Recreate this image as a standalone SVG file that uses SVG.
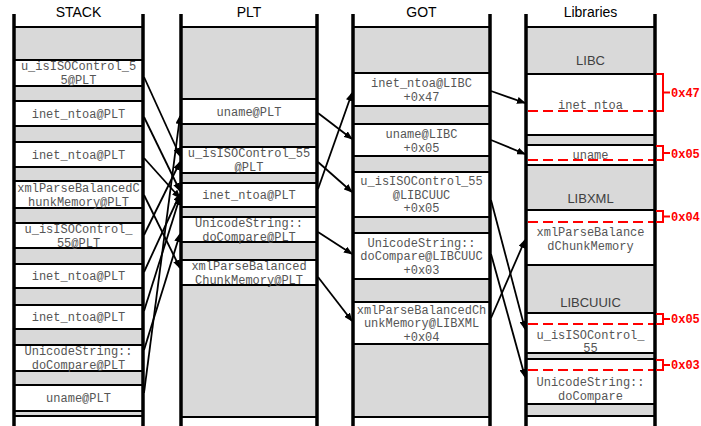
<svg xmlns="http://www.w3.org/2000/svg" width="701" height="426" viewBox="0 0 701 426">
<defs>
<marker id="ah" markerUnits="userSpaceOnUse" markerWidth="9" markerHeight="7" refX="8" refY="3.5" orient="auto">
<path d="M0,0 L9,3.5 L0,7 z" fill="#000"/>
</marker>
<style>
.hdr{font-family:"Liberation Sans",Arial,sans-serif;font-size:14px;fill:#000;text-anchor:middle}
.lib{font-family:"Liberation Sans",Arial,sans-serif;font-size:13px;fill:#404040;text-anchor:middle}
.t{font-family:"Liberation Mono","Courier New",monospace;font-size:12px;fill:#555;text-anchor:middle}
.hex{font-family:"Liberation Mono","Courier New",monospace;font-size:12px;font-weight:bold;fill:#ff0000}
.bg{fill:#d9d9d9}
.box{fill:#fff;stroke:#000;stroke-width:2}
.vl{stroke:#000;stroke-width:3.5}
.tl{stroke:#000;stroke-width:2}
.dash{stroke:#ff0000;stroke-width:2;stroke-dasharray:10,5;fill:none}
.br{stroke:#ff0000;stroke-width:2;fill:none}
.c line{stroke:#000;stroke-width:1.8;marker-end:url(#ah)}
</style>
</defs>
<rect width="701" height="426" fill="#fff"/>

<!-- column backgrounds -->
<rect class="bg" x="14" y="27" width="129" height="400"/>
<rect class="bg" x="181" y="27" width="136" height="400"/>
<rect class="bg" x="353" y="27" width="137" height="400"/>
<rect class="bg" x="526" y="27" width="129" height="400"/>

<text class="hdr" x="78.5" y="17">STACK</text>
<text class="hdr" x="249" y="17">PLT</text>
<text class="hdr" x="421.5" y="17">GOT</text>
<text class="hdr" x="590.5" y="17">Libraries</text>

<!-- STACK -->
<g id="stack">
<g id="s1"><rect class="box" x="14" y="60" width="129" height="26"/><text class="t" x="78.5" y="70">u_isISOControl_5</text><text class="t" x="78.5" y="84">5@PLT</text></g>
<g id="s2"><rect class="box" x="14" y="101" width="129" height="25"/><text class="t" x="78.5" y="117.5">inet_ntoa@PLT</text></g>
<g id="s3"><rect class="box" x="14" y="142" width="129" height="25"/><text class="t" x="78.5" y="158.5">inet_ntoa@PLT</text></g>
<g id="s4"><rect class="box" x="14" y="181" width="129" height="27"/><text class="t" x="78.5" y="191.5">xmlParseBalancedC</text><text class="t" x="78.5" y="205.5">hunkMemory@PLT</text></g>
<g id="s5"><rect class="box" x="14" y="223" width="129" height="25"/><text class="t" x="78.5" y="232.5">u_isISOControl_</text><text class="t" x="78.5" y="246.5">55@PLT</text></g>
<g id="s6"><rect class="box" x="14" y="264" width="129" height="24"/><text class="t" x="78.5" y="280">inet_ntoa@PLT</text></g>
<g id="s7"><rect class="box" x="14" y="305" width="129" height="24"/><text class="t" x="78.5" y="321">inet_ntoa@PLT</text></g>
<g id="s8"><rect class="box" x="14" y="345" width="129" height="26"/><text class="t" x="78.5" y="355">UnicodeString::</text><text class="t" x="78.5" y="369">doCompare@PLT</text></g>
<g id="s9"><rect class="box" x="14" y="385" width="129" height="26"/><text class="t" x="78.5" y="402">uname@PLT</text></g>
<g id="s10"><rect class="box" x="14" y="416" width="129" height="20"/></g>
</g>

<!-- PLT -->
<g id="plt">
<g id="p1"><rect class="box" x="181" y="99" width="136" height="25"/><text class="t" x="249" y="115.5">uname@PLT</text></g>
<g id="p2"><rect class="box" x="181" y="147" width="136" height="26"/><text class="t" x="249" y="157">u_isISOControl_55</text><text class="t" x="249" y="171">@PLT</text></g>
<g id="p3"><rect class="box" x="181" y="183" width="136" height="24"/><text class="t" x="249" y="199">inet_ntoa@PLT</text></g>
<g id="p4"><rect class="box" x="181" y="217" width="136" height="25"/><text class="t" x="249" y="226.5">UnicodeString::</text><text class="t" x="249" y="240.5">doCompare@PLT</text></g>
<g id="p5"><rect class="box" x="181" y="260" width="136" height="25"/><text class="t" x="249" y="269.5">xmlParseBalanced</text><text class="t" x="249" y="283.5">ChunkMemory@PLT</text></g>
<g id="p6"><rect class="box" x="181" y="417" width="136" height="20"/></g>
</g>

<!-- GOT -->
<g id="got">
<g id="g1"><rect class="box" x="353" y="73" width="137" height="33"/><text class="t" x="421.5" y="87">inet_ntoa@LIBC</text><text class="t" x="421.5" y="101">+0x47</text></g>
<g id="g2"><rect class="box" x="353" y="124" width="137" height="32"/><text class="t" x="421.5" y="137.5">uname@LIBC</text><text class="t" x="421.5" y="151.5">+0x05</text></g>
<g id="g3"><rect class="box" x="353" y="172" width="137" height="45"/><text class="t" x="421.5" y="185">u_isISOControl_55</text><text class="t" x="421.5" y="198.5">@LIBCUUC</text><text class="t" x="421.5" y="212">+0x05</text></g>
<g id="g4"><rect class="box" x="353" y="233" width="137" height="46"/><text class="t" x="421.5" y="246.5">UnicodeString::</text><text class="t" x="421.5" y="260">doCompare@LIBCUUC</text><text class="t" x="421.5" y="273.5">+0x03</text></g>
<g id="g5"><rect class="box" x="353" y="302" width="137" height="42"/><text class="t" x="421.5" y="313.5">xmlParseBalancedCh</text><text class="t" x="421.5" y="327">unkMemory@LIBXML</text><text class="t" x="421.5" y="340.5">+0x04</text></g>
<g id="g6"><rect class="box" x="353" y="417" width="137" height="20"/></g>
</g>

<!-- Libraries -->
<g id="libs">
<g id="libc"><text class="lib" x="590.5" y="65">LIBC</text></g>
<g id="l1"><rect class="box" x="526" y="74" width="129" height="61"/><text class="t" x="590.5" y="109">inet_ntoa</text><line class="dash" x1="528" y1="111" x2="654" y2="111"/></g>
<g id="l2"><rect class="box" x="526" y="145" width="129" height="20"/><text class="t" x="590.5" y="159">uname</text><line class="dash" x1="528" y1="160" x2="654" y2="160"/></g>
<g id="libxml"><text class="lib" x="590.5" y="203">LIBXML</text></g>
<g id="l3"><rect class="box" x="526" y="210" width="129" height="55"/><text class="t" x="590.5" y="236">xmlParseBalance</text><text class="t" x="590.5" y="249.5">dChunkMemory</text><line class="dash" x1="528" y1="222" x2="654" y2="222"/></g>
<g id="libcuuic"><text class="lib" x="590.5" y="307">LIBCUUIC</text></g>
<g id="l4"><rect class="box" x="526" y="313" width="129" height="40"/><text class="t" x="590.5" y="339">u_isISOControl_</text><text class="t" x="590.5" y="352">55</text><line class="dash" x1="528" y1="324" x2="654" y2="324"/></g>
<g id="l5"><rect class="box" x="526" y="359" width="129" height="45"/><text class="t" x="590.5" y="386">UnicodeString::</text><text class="t" x="590.5" y="400">doCompare</text><line class="dash" x1="528" y1="370" x2="654" y2="370"/></g>
<g id="l6"><rect class="box" x="526" y="416" width="129" height="20"/></g>
</g>

<!-- column outlines -->
<g id="frames">
<line class="tl" x1="14" y1="27" x2="143" y2="27"/>
<line class="tl" x1="181" y1="27" x2="317" y2="27"/>
<line class="tl" x1="353" y1="27" x2="490" y2="27"/>
<line class="tl" x1="526" y1="27" x2="655" y2="27"/>
<line class="vl" x1="14" y1="14" x2="14" y2="426"/>
<line class="vl" x1="143" y1="14" x2="143" y2="426"/>
<line class="vl" x1="181" y1="14" x2="181" y2="426"/>
<line class="vl" x1="317" y1="14" x2="317" y2="426"/>
<line class="vl" x1="353" y1="14" x2="353" y2="426"/>
<line class="vl" x1="490" y1="14" x2="490" y2="426"/>
<line class="vl" x1="526" y1="14" x2="526" y2="426"/>
<line class="vl" x1="655" y1="14" x2="655" y2="426"/>
</g>

<!-- offsets -->
<g id="offsets">
<path class="br" d="M656,74 H663 V111 H656 M663,92.5 H670"/><text class="hex" x="671" y="97">0x47</text>
<path class="br" d="M656,146 H663 V160 H656 M663,153 H670"/><text class="hex" x="671" y="157.5">0x05</text>
<path class="br" d="M656,211 H663 V222 H656 M663,216.5 H670"/><text class="hex" x="671" y="220.5">0x04</text>
<path class="br" d="M656,314 H663 V324 H656 M663,319 H670"/><text class="hex" x="671" y="323">0x05</text>
<path class="br" d="M656,360 H663 V370 H656 M663,365 H670"/><text class="hex" x="671" y="369">0x03</text>
</g>

<!-- connectors -->
<g id="connectors" class="c">
<line x1="144" y1="77" x2="180" y2="156"/>
<line x1="144" y1="117" x2="180" y2="191"/>
<line x1="144" y1="158" x2="180" y2="198"/>
<line x1="144" y1="195" x2="180" y2="268"/>
<line x1="144" y1="235" x2="180" y2="162"/>
<line x1="144" y1="272" x2="180" y2="194"/>
<line x1="144" y1="311" x2="180" y2="197"/>
<line x1="144" y1="350" x2="180" y2="234"/>
<line x1="144" y1="393" x2="180" y2="116"/>
<line x1="318" y1="113" x2="352" y2="139"/>
<line x1="318" y1="162" x2="352" y2="192"/>
<line x1="318" y1="189" x2="352" y2="93"/>
<line x1="318" y1="232" x2="352" y2="254"/>
<line x1="318" y1="277" x2="352" y2="321"/>
<line x1="491" y1="91" x2="525" y2="103"/>
<line x1="491" y1="140" x2="525" y2="154"/>
<line x1="491" y1="200" x2="525" y2="329"/>
<line x1="491" y1="254" x2="525" y2="377"/>
<line x1="491" y1="318" x2="525" y2="240"/>
</g>
</svg>
